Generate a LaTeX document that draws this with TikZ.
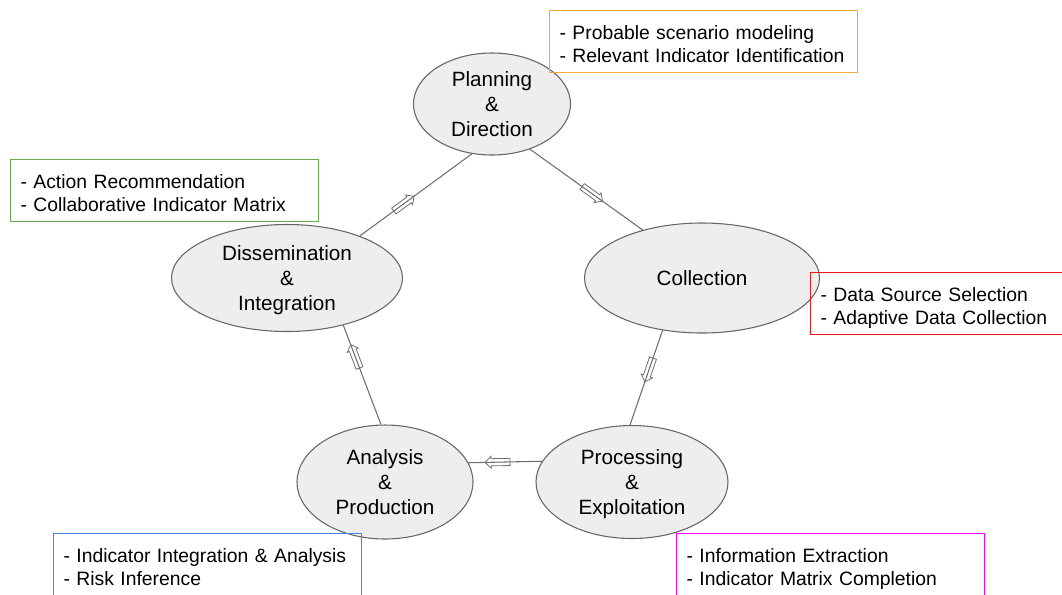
\documentclass[tikz,border=0pt]{standalone}
\usepackage{fontspec}
\setmainfont{Liberation Sans}
\usetikzlibrary{shapes.geometric,shapes.arrows}

\definecolor{phasefill}{HTML}{EEEEEE}
\definecolor{phaseline}{HTML}{666666}
\definecolor{linkgray}{HTML}{6E6E6E}
\definecolor{noteorange}{HTML}{F6A936}
\definecolor{notegreen}{HTML}{6AA84F}
\definecolor{notered}{HTML}{F01818}
\definecolor{noteblue}{HTML}{4A86E8}
\definecolor{notemagenta}{HTML}{FF00FF}

\tikzset{
  phase/.style={ellipse, draw=phaseline, fill=phasefill, line width=0.8pt, inner sep=0pt,
    align=center, text depth=0pt, font=\fontsize{15.5}{18.75}\selectfont},
  note/.style={rectangle, draw, line width=0.8pt, anchor=north west, minimum width=231pt,
    minimum height=46.5pt, text width=216pt, inner xsep=7.5pt, align=left, text depth=13pt,
    font=\fontsize{14.5}{17.25}\selectfont},
  link/.style={draw=linkgray, line width=0.8pt},
  flow/.style={single arrow, draw=linkgray, line width=0.6pt, sloped, allow upside down,
    inner xsep=0pt, inner ysep=2.4pt, minimum height=18.75pt, single arrow head extend=1.8pt}
}

\begin{document}
\begin{tikzpicture}[x=0.75pt,y=0.75pt]
\useasboundingbox (0,0) rectangle (1062,-594);
\clip (0,0) rectangle (1062,-594);

% Phases
\node[phase, minimum width=117.75pt, minimum height=76.5pt] (plan) at (492,-104) {Planning\\\&\\Direction};
\node[phase, minimum width=176.25pt, minimum height=82.5pt] (coll) at (702,-278) {Collection};
\node[phase, minimum width=144pt, minimum height=84.75pt] (proc) at (632,-482) {Processing\\\&\\Exploitation};
\node[phase, minimum width=132pt, minimum height=85.5pt] (anal) at (385,-482) {Analysis\\\&\\Production};
\node[phase, minimum width=173.25pt, minimum height=80.25pt] (diss) at (287,-278) {Dissemination\\\&\\Integration};

% Cycle
\draw[link] (plan.-50.6) -- (coll.141.4) node[flow, pos=0.54] {};
\draw[link] (coll.-127.4) -- (proc.92) node[flow, pos=0.40] {};
\draw[link] (proc.167.1) -- (anal.13.7) node[flow, pos=0.58] {};
\draw[link] (anal.94.9) -- (diss.-40.9) node[flow, pos=0.67] {};
\draw[link] (diss.30.4) -- (plan.-112.5) node[flow, pos=0.38] {};

% Notes
\node[note, draw=noteorange] (plan-note) at (549,-10) {- Probable scenario modeling\\- Relevant Indicator Identification};
\node[note, draw=notered] (coll-note) at (810,-272) {- Data Source Selection\\- Adaptive Data Collection};
\node[note, draw=notemagenta] (proc-note) at (676,-532.5) {- Information Extraction\\- Indicator Matrix Completion};
\node[note, draw=noteblue] (anal-note) at (53,-532.5) {- Indicator Integration \& Analysis\\- Risk Inference};
\node[note, draw=notegreen] (diss-note) at (10,-159) {- Action Recommendation\\- Collaborative Indicator Matrix};

\end{tikzpicture}
\end{document}
